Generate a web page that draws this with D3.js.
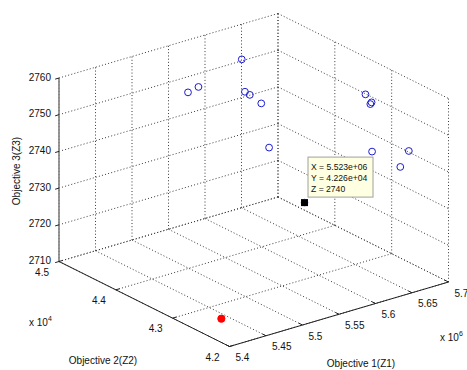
<!DOCTYPE html>
<html><head><meta charset="utf-8">
<script src="https://cdn.jsdelivr.net/npm/d3@7"></script>
<style>
html,body{margin:0;padding:0;background:#fff;}
svg{display:block;font-family:"Liberation Sans",Arial,sans-serif;}
</style></head>
<body>
<svg id="chart" width="467" height="370"></svg>
<script>
// ---- data ----
const z1 = [5.530e6, 5.556e6, 5.627e6, 5.608e6, 5.603e6, 5.607e6, 5.571e6, 5.668e6, 5.663e6, 5.660e6, 5.642e6, 5.669e6, 5.669e6, 5.523e6];
const z2 = [4.440e4, 4.455e4, 4.470e4, 4.440e4, 4.425e4, 4.410e4, 4.350e4, 4.305e4, 4.290e4, 4.284e4, 4.260e4, 4.230e4, 4.245e4, 4.226e4];
const z3 = [2753.1, 2751.9, 2754.1, 2748.7, 2749.3, 2747.9, 2742.6, 2754.9, 2753.7, 2754.8, 2744.3, 2745.2, 2739.7, 2740];
const idealZ1 = [5.441e6];
const idealZ2 = [4.267e4];
const idealZ3 = [2710];
const tipPoint = {x: 5.523e6, y: 4.226e4, z: 2740};
const tipLines = ["X = 5.523e+06", "Y = 4.226e+04", "Z = 2740"];
const xTicks = [5.4e6, 5.45e6, 5.5e6, 5.55e6, 5.6e6, 5.65e6, 5.7e6];
const xTickLabels = ["5.4", "5.45", "5.5", "5.55", "5.6", "5.65", "5.7"];
const yTicks = [4.2e4, 4.3e4, 4.4e4, 4.5e4];
const yTickLabels = ["4.2", "4.3", "4.4", "4.5"];
const zTicks = [2710, 2720, 2730, 2740, 2750, 2760];
const zTickLabels = ["2710", "2720", "2730", "2740", "2750", "2760"];

// ---- projection ----
const sx = d3.scaleLinear().domain([5.4e6, 5.7e6]).range([0, 1]);
const sy = d3.scaleLinear().domain([4.5e4, 4.2e4]).range([0, 1]);
const sz = d3.scaleLinear().domain([2710, 2760]).range([0, 1]);
const O = [59, 261.5], UX = [219, -64.5], UY = [170.5, 85], UZ = [0, -183.5];
function P(x, y, z) {
  const a = sx(x), b = sy(y), c = sz(z);
  return [O[0] + a*UX[0] + b*UY[0] + c*UZ[0], O[1] + a*UX[1] + b*UY[1] + c*UZ[1]];
}
const X0 = 5.4e6, X1 = 5.7e6, Y0 = 4.5e4, Y1 = 4.2e4, Zmin = 2710, Zmax = 2760;

const svg = d3.select("#chart");
const grid = svg.append("g").attr("stroke", "#3a3a3a").attr("stroke-width", 1)
  .attr("stroke-dasharray", "1,2.2").attr("fill", "none");
function seg(g, p, q) { g.append("line").attr("x1", p[0]).attr("y1", p[1]).attr("x2", q[0]).attr("y2", q[1]); }

// back wall y = 4.5
xTicks.forEach(x => seg(grid, P(x, Y0, Zmin), P(x, Y0, Zmax)));
zTicks.forEach(z => seg(grid, P(X0, Y0, z), P(X1, Y0, z)));
// back wall x = 5.7
yTicks.forEach(y => seg(grid, P(X1, y, Zmin), P(X1, y, Zmax)));
zTicks.forEach(z => seg(grid, P(X1, Y0, z), P(X1, Y1, z)));
// floor
xTicks.forEach(x => seg(grid, P(x, Y0, Zmin), P(x, Y1, Zmin)));
yTicks.forEach(y => seg(grid, P(X0, y, Zmin), P(X1, y, Zmin)));

// axes
const ax = svg.append("g").attr("fill", "none");
ax.append("line").attr("stroke", "#808080").attr("stroke-width", 1.6)
  .attr("x1", P(X0, Y0, Zmin)[0]).attr("y1", P(X0, Y0, Zmin)[1])
  .attr("x2", P(X0, Y0, Zmax)[0]).attr("y2", P(X0, Y0, Zmax)[1]);
ax.append("line").attr("stroke", "#222").attr("stroke-width", 1)
  .attr("x1", P(X0, Y0, Zmin)[0]).attr("y1", P(X0, Y0, Zmin)[1])
  .attr("x2", P(X0, Y1, Zmin)[0]).attr("y2", P(X0, Y1, Zmin)[1]);
ax.append("line").attr("stroke", "#222").attr("stroke-width", 1)
  .attr("x1", P(X0, Y1, Zmin)[0]).attr("y1", P(X0, Y1, Zmin)[1])
  .attr("x2", P(X1, Y1, Zmin)[0]).attr("y2", P(X1, Y1, Zmin)[1]);

function unit(v) { const l = Math.hypot(v[0], v[1]); return [v[0]/l, v[1]/l]; }
const ux = unit(UX), uy = unit(UY);
const tl = 4;
const ticks = svg.append("g").attr("stroke", "#222").attr("stroke-width", 1);
const labels = svg.append("g").attr("font-size", "10px").attr("fill", "#111");

zTicks.forEach((z, i) => {
  const p = P(X0, Y0, z);
  seg(ticks, p, [p[0] - ux[0]*tl, p[1] - ux[1]*tl]);
  labels.append("text").attr("x", p[0] - 8).attr("y", p[1] - 1).attr("dy", "0.35em")
    .attr("text-anchor", "end").text(zTickLabels[i]);
});
yTicks.forEach((y, i) => {
  const p = P(X0, y, Zmin);
  seg(ticks, p, [p[0] + ux[0]*tl, p[1] + ux[1]*tl]);
  labels.append("text").attr("x", p[0] - 10).attr("y", p[1] + 10.5).attr("dy", "0.35em")
    .attr("text-anchor", "end").text(yTickLabels[i]);
});
xTicks.forEach((x, i) => {
  const p = P(x, Y1, Zmin);
  seg(ticks, p, [p[0] - uy[0]*tl, p[1] - uy[1]*tl]);
  labels.append("text").attr("x", p[0] + 6).attr("y", p[1] + 11).attr("dy", "0.35em")
    .attr("text-anchor", "start").text(xTickLabels[i]);
});

// exponent labels
const e1 = labels.append("text").attr("x", 440).attr("y", 341);
e1.append("tspan").text("x 10");
e1.append("tspan").attr("dy", -5).attr("font-size", "7px").text("6");
const e2 = labels.append("text").attr("x", 29).attr("y", 326);
e2.append("tspan").text("x 10");
e2.append("tspan").attr("dy", -5).attr("font-size", "7px").text("4");

// axis titles
labels.append("text").attr("x", 361).attr("y", 363).attr("dy", "0.35em")
  .attr("text-anchor", "middle").text("Objective 1(Z1)");
labels.append("text").attr("x", 103).attr("y", 360).attr("dy", "0.35em")
  .attr("text-anchor", "middle").text("Objective 2(Z2)");
labels.append("text").attr("transform", "translate(16,171) rotate(-90)").attr("dy", "0.35em")
  .attr("text-anchor", "middle").text("Objective 3(Z3)");

// points
const pts = z1.map((x, i) => P(x, z2[i], z3[i]));
svg.append("g").selectAll("circle").data(pts).join("circle")
  .attr("cx", d => d[0]).attr("cy", d => d[1]).attr("r", 3.4)
  .attr("fill", "none").attr("stroke", "#1c1cd0").attr("stroke-width", 1);
const ipts = idealZ1.map((x, i) => P(x, idealZ2[i], idealZ3[i]));
svg.append("g").selectAll("circle").data(ipts).join("circle")
  .attr("cx", d => d[0]).attr("cy", d => d[1]).attr("r", 3.6)
  .attr("fill", "#ff0000").attr("stroke", "#ff0000");

// data tip
const tp = P(tipPoint.x, tipPoint.y, tipPoint.z);
svg.append("rect").attr("x", tp[0] - 4).attr("y", tp[1] - 4).attr("width", 8).attr("height", 8).attr("fill", "#fff");
svg.append("rect").attr("x", tp[0] - 3.5).attr("y", tp[1] - 3.5).attr("width", 7).attr("height", 7).attr("fill", "#000");
const tip = svg.append("g");
tip.append("rect").attr("x", tp[0] + 3.5).attr("y", tp[1] - 45.5).attr("width", 65).attr("height", 40)
  .attr("fill", "#ffffe1").attr("stroke", "#a0a0a0").attr("stroke-width", 1);
tipLines.forEach((t, i) => {
  tip.append("text").attr("x", tp[0] + 6.5).attr("y", tp[1] - 36 + i*11.2).attr("dy", "0.35em")
    .attr("font-size", "8.6px").attr("fill", "#111").text(t);
});
</script>
</body></html>
